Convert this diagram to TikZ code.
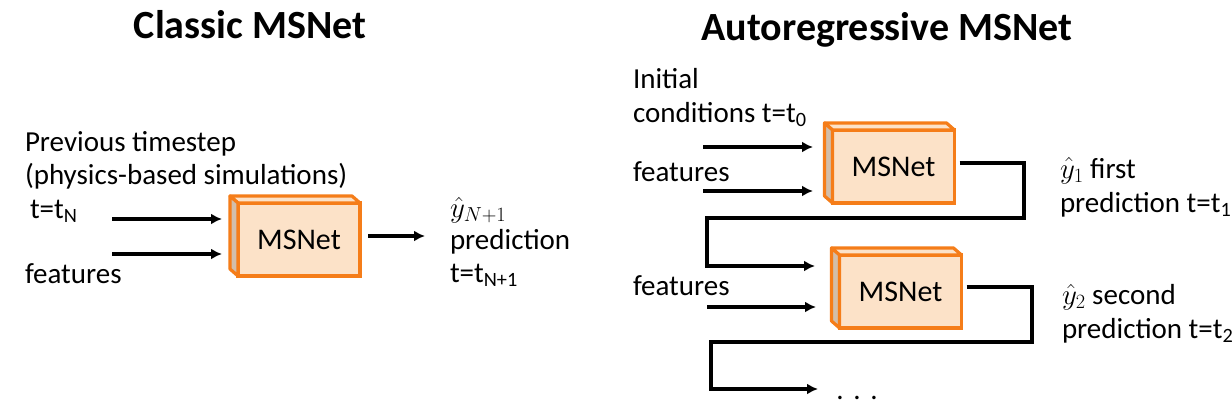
\documentclass[tikz,border=0pt]{standalone}
\usepackage{fix-cm}
\usepackage{fontspec}
\setmainfont{Carlito}
\usetikzlibrary{arrows.meta,calc}
\definecolor{boxorange}{RGB}{245,125,25}
\definecolor{boxfill}{RGB}{252,226,200}
\definecolor{boxside}{RGB}{210,190,170}
\newcommand\msbox[3]{%
  \node[frontbox] (#1) at (#2,#3) {MSNet};
  \filldraw[sideface,fill=boxfill] (#1.north west) -- ++(-8,-7) -- ($(#1.north east)+(-8,-7)$) -- (#1.north east) -- cycle;
  \filldraw[sideface,fill=boxside] (#1.north west) -- ++(-8,-7) -- ($(#1.south west)+(-8,-7)$) -- (#1.south west) -- cycle;
}
\begin{document}
\begin{tikzpicture}[x=1pt,y=-1pt,
  lbl/.style={inner sep=0,outer sep=0,anchor=base west,font=\fontsize{29}{34}\selectfont},
  ttl/.style={inner sep=0,outer sep=0,anchor=base,font=\fontsize{40}{48}\selectfont\bfseries},
  frontbox/.style={draw=boxorange,fill=boxfill,line width=3.2pt,minimum width=122pt,minimum height=73pt,inner sep=0,outer sep=0,font=\fontsize{30}{36}\selectfont},
  sideface/.style={draw=boxorange,line width=3.2pt,line join=round},
  arr/.style={line width=3.2pt,-{Latex[length=11pt,width=11pt]}}]
\useasboundingbox (0,0) rectangle (1232,415);
\fill[white] (0,0) rectangle (1232,415);

% ---------- Classic MSNet ----------
\node[ttl] (t1) at (250,38) {Classic MSNet};
\node[lbl] (prev) at (25,151) {Previous timestep};
\node[lbl] (phys) at (25,184) {(physics-based simulations)};
\node[lbl] (tN) at (30,218) {t=t\textsubscript{N}};
\node[lbl] (feat1) at (25,283) {features};
\msbox{b1}{299}{239.5}
\coordinate (a1s) at (112,219); \coordinate (a1e) at (222,219);
\coordinate (a2s) at (112,254); \coordinate (a2e) at (222,254);
\draw[arr] (a1s) -- (a1e);
\draw[arr] (a2s) -- (a2e);
\coordinate (o1e) at (425,236);
\draw[arr] ($(b1.east |- o1e)+(8,0)$) -- (o1e);
\node[lbl] (yN) at (450,217) {$\hat{y}_{N+1}$};
\node[lbl] (pred1) at (450,249) {prediction};
\node[lbl] (tN1) at (450,282) {t=t\textsubscript{N+1}};

% ---------- Autoregressive MSNet ----------
\node[ttl] (t2) at (887,40) {Autoregressive MSNet};
\node[lbl] (init) at (633,88) {Initial};
\node[lbl] (cond) at (633,122) {conditions t=t\textsubscript{0}};
\node[lbl] (feat2) at (633,181) {features};
\msbox{b2}{893.5}{166.5}
\coordinate (r1s) at (703,147); \coordinate (r1e) at (813,147);
\coordinate (r2s) at (703,191); \coordinate (r2e) at (813,191);
\draw[arr] (r1s) -- (r1e);
\draw[arr] (r2s) -- (r2e);
\coordinate (c1a) at (1024,218); \coordinate (c1b) at (707,266); \coordinate (c1e) at (815,266);
\draw[arr] ($(b2.east)+(5,-3.5)$) -| (c1a) -| (c1b) -- (c1e);
\node[lbl] (y1) at (1060,178) {$\hat{y}_1$ first};
\node[lbl] (pred2) at (1060,212) {prediction t=t\textsubscript{1}};

\node[lbl] (feat3) at (633,295) {features};
\msbox{b3}{900.5}{291.5}
\coordinate (r3s) at (707,307); \coordinate (r3e) at (816,307);
\draw[arr] (r3s) -- (r3e);
\coordinate (c2a) at (1032,342); \coordinate (c2b) at (711,389); \coordinate (c2e) at (818,389);
\draw[arr] ($(b3.east)+(5,-4.5)$) -| (c2a) -| (c2b) -- (c2e);
\node[lbl] (y2) at (1062,304) {$\hat{y}_2$ second};
\node[lbl] (pred3) at (1062,338) {prediction t=t\textsubscript{2}};
\node[lbl,anchor=base] (dots) at (857,399) {.\,\,.\,\,.};
\end{tikzpicture}
\end{document}
